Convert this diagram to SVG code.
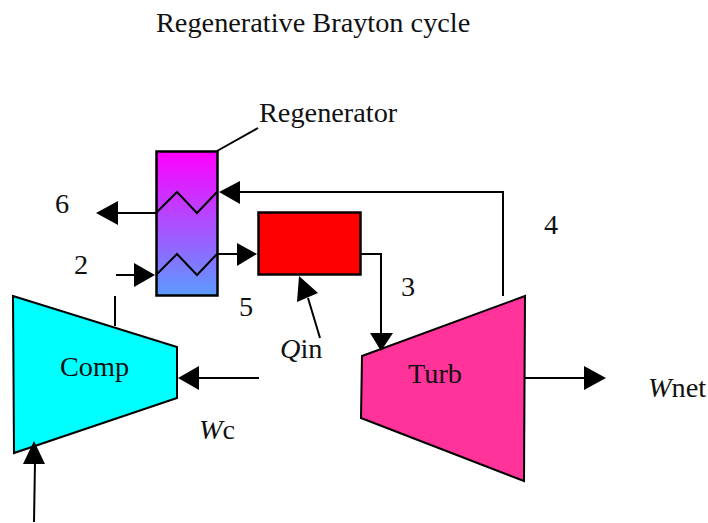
<svg xmlns="http://www.w3.org/2000/svg" width="708" height="523" viewBox="0 0 708 523">
<style>
text{font-family:"Liberation Serif","Times New Roman",serif;font-size:28.300px;fill:#111}
.i{font-style:italic}
.s{stroke:#000;stroke-width:2.5px}
.l{fill:none;stroke:#000;stroke-width:2px}
.h{fill:#000;stroke:none}
</style>
<defs>
<linearGradient id="g" x1="0" y1="0" x2="0" y2="1"><stop offset="0" stop-color="#ff00ff"/><stop offset="1" stop-color="#5b9bff"/></linearGradient>
</defs>
<rect width="708" height="523" fill="#fff"/>
<text x="156" y="32">Regenerative Brayton cycle</text>
<g id="regenerator"><rect class="s" x="156.500" y="151.500" width="61" height="144" fill="url(#g)"/></g>
<g id="heater"><rect class="s" x="258.500" y="212.500" width="102" height="62" fill="#f00"/></g>
<g id="compressor"><polygon points="13,296 177,347 177,398 14,453" fill="#0ff" stroke="#000" stroke-width="2"/><text x="60" y="376">Comp</text></g>
<g id="turbine"><polygon points="362,356 525,296 524,481 361,418" fill="#ff3399" stroke="#000" stroke-width="2"/><text x="408" y="383">Turb</text></g>
<g id="connectors">
<path class="l" d="M217 151L258 128"/>
<path class="l" d="M116 213H156L177 192L197 213L217 192"/>
<path class="l" d="M156 275L177 254L197 275L217 254H240"/>
<path class="l" d="M503 296V192H240"/>
<path class="l" d="M116 275H135"/>
<path class="l" d="M360 254H381V335"/>
<path class="l" d="M115 296V326"/>
<path class="l" d="M320 338L308 298"/>
<path class="l" d="M259 378H198"/>
<path class="l" d="M524 378H584"/>
<path class="l" d="M34 522L35 462"/>
<polygon class="h" points="96,213 118,201 118,225"/>
<polygon class="h" points="155,275 134,263 134,287"/>
<polygon class="h" points="219,192 240,181 240,204"/>
<polygon class="h" points="257,254 237,243 237,266"/>
<polygon class="h" points="299,276 297,302 318,293"/>
<polygon class="h" points="381,351 370,333 393,333"/>
<polygon class="h" points="178,378 199,366 199,390"/>
<polygon class="h" points="606,378 584,366 584,390"/>
<polygon class="h" points="34,441 23,464 45,464"/>
</g>
<text x="259" y="122">Regenerator</text>
<text x="55" y="213">6</text>
<text x="74" y="274">2</text>
<text x="544" y="234">4</text>
<text x="239" y="316">5</text>
<text x="401" y="296">3</text>
<text x="280" y="358"><tspan class="i">Q</tspan>in</text>
<text x="199" y="439"><tspan class="i">W</tspan>c</text>
<text x="648" y="397"><tspan class="i">W</tspan>net</text>
</svg>
